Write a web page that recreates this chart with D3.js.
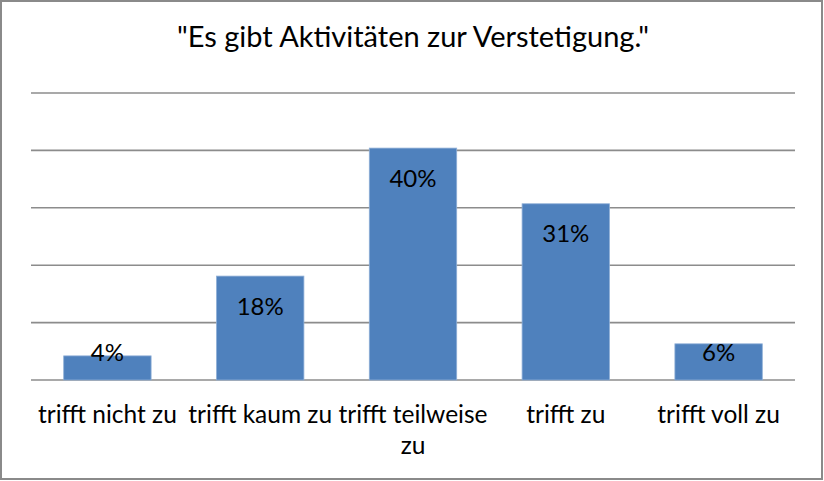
<!DOCTYPE html>
<html>
<head>
<meta charset="utf-8">
<script src="https://cdn.jsdelivr.net/npm/d3@7"></script>
<style>
  body { margin: 0; background: #fff; }
  #container { width: 824px; height: 481px; }
</style>
</head>
<body>
<div id="container"></div>
<script>
const titleText = "\"Es gibt Aktivitäten zur Verstetigung.\""
const categories = ["trifft nicht zu", "trifft kaum zu", "trifft teilweise zu", "trifft zu", "trifft voll zu"]
const values = [0.042, 0.181, 0.404, 0.307, 0.063]
const labels = ["4%", "18%", "40%", "31%", "6%"]
const gridTicks = [0, 0.1, 0.2, 0.3, 0.4, 0.5]

const width = 824, height = 481
const margin = {top: 93, right: 29, bottom: 101, left: 31}
const font = "Lato, 'Open Sans', sans-serif"

const svg = d3.select("#container")
    .append("svg")
        .attr("width", width)
        .attr("height", height)

// rahmen
svg.append("rect")
    .attr("x", 1).attr("y", 1)
    .attr("width", width - 3).attr("height", height - 3)
    .attr("fill", "white")
    .attr("stroke", "#8a8a8a")
    .attr("stroke-width", 2)

svg.append("text")
    .attr("x", margin.left + (width - margin.left - margin.right) / 2)
    .attr("y", 47)
    .attr("text-anchor", "middle")
    .style("font-family", font)
    .style("font-size", "29px")
    .attr("fill", "#000")
    .text(titleText)

const g = svg.append("g")
    .attr("transform", `translate(${margin.left}, ${margin.top})`)

const w = width - margin.left - margin.right
const h = height - margin.top - margin.bottom

const x = d3.scaleBand()
    .domain(categories)
    .range([0, w])
    .paddingInner(0.428)
    .paddingOuter(0.214)

const y = d3.scaleLinear()
    .domain([0, 0.5])
    .range([h, 0])

// gitterlinien
g.append("g").selectAll("line")
    .data(gridTicks)
    .join("line")
    .attr("x1", 0)
    .attr("x2", w)
    .attr("y1", d => y(d))
    .attr("y2", d => y(d))
    .attr("stroke", "#8c8c8c")
    .attr("stroke-width", 1.6)

g.append("g").selectAll("rect")
    .data(values)
    .join("rect")
    .attr("x", (d, i) => x(categories[i]))
    .attr("y", d => y(d))
    .attr("width", x.bandwidth())
    .attr("height", d => y(0) - y(d))
    .attr("fill", "#4f81bd")
    .attr("stroke", "#8eaed6")
    .attr("stroke-width", 0.8)

// werte in den balken
g.append("g").selectAll("text")
    .data(values)
    .join("text")
    .attr("x", (d, i) => x(categories[i]) + x.bandwidth() / 2)
    .attr("y", d => Math.min(y(d) + 38.4, h - 19))
    .attr("text-anchor", "middle")
    .style("font-family", font)
    .style("font-size", "24px")
    .attr("fill", "#000")
    .text((d, i) => labels[i])

// x-achse beschriftung, mit umbruch
const xLabels = g.append("g").selectAll("text")
    .data(categories)
    .join("text")
    .attr("x", d => x(d) + x.bandwidth() / 2)
    .attr("y", h + 43)
    .attr("text-anchor", "middle")
    .style("font-family", font)
    .style("font-size", "24.5px")
    .attr("fill", "#000")

xLabels.each(function(d) {
    const el = d3.select(this)
    const words = d.split(" ")
    let line = []
    let tspan = el.append("tspan").attr("x", el.attr("x")).attr("dy", 0)
    words.forEach(word => {
        line.push(word)
        tspan.text(line.join(" "))
        if (tspan.node().getComputedTextLength() > x.step() + 6 && line.length > 1) {
            line.pop()
            tspan.text(line.join(" "))
            line = [word]
            tspan = el.append("tspan").attr("x", el.attr("x")).attr("dy", "31.3px").text(word)
        }
    })
})
</script>
</body>
</html>
